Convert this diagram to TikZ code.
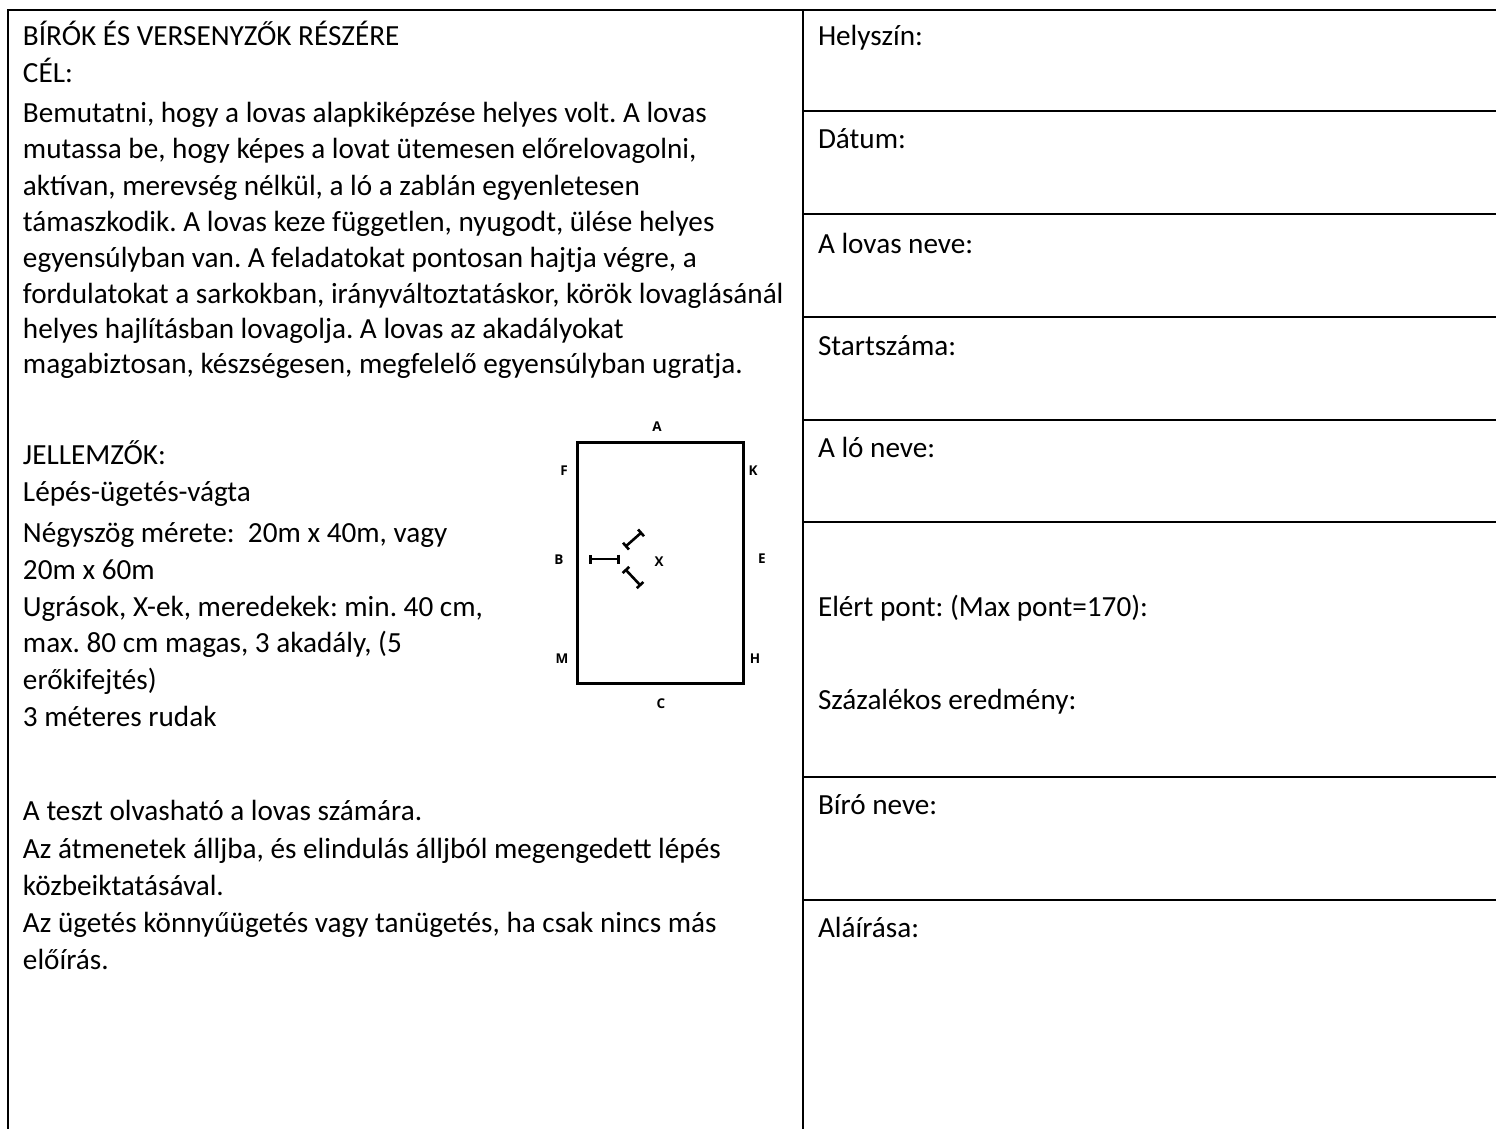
\documentclass[tikz,border=0pt]{standalone}
\usepackage{fontspec}
\setmainfont{Carlito}
\newfontfamily\smallsans{Open Sans}
\usetikzlibrary{arrows.meta}
\frenchspacing
\tikzset{
  txt/.style={anchor=base west,inner sep=0pt,outer sep=0pt,font=\fontsize{29.2}{34}\selectfont,text=black},
  rule/.style={line width=2.6pt,black},
  letter/.style={anchor=center,inner sep=0pt,font=\smallsans\bfseries\fontsize{13.5}{15}\selectfont},
  arena/.style={line width=3pt,black},
  pole/.style={line width=2.6pt,black,{Bar[width=9pt,length=2.6pt]}-{Bar[width=9pt,length=2.6pt]}}
}
\begin{document}
\begin{tikzpicture}[x=1pt,y=-1pt]
\useasboundingbox (0,0) rectangle (1496,1129);
\coordinate (tl) at (8,10); \coordinate (tr) at (1496,10); \coordinate (bl) at (8,1129);
\coordinate (mt) at (803,10); \coordinate (mb) at (803,1129);
\draw[rule] (bl) -- (tl) -- (tr);
\draw[rule] (mt) -- (mb);
\foreach \y/\n in {111/a,214/b,317/c,420/d,522/e,777/f,900/g}{
  \coordinate (r\n w) at (803,\y); \coordinate (r\n e) at (1496,\y);
  \draw[rule] (r\n w) -- (r\n e);
}
\node[txt] (l1) at (23,46) {BÍRÓK ÉS VERSENYZŐK RÉSZÉRE};
\node[txt] (l2) at (23,83) {CÉL:};
\node[txt] (l3) at (23,123) {Bemutatni, hogy a lovas alapkiképzése helyes volt. A lovas};
\node[txt] (l4) at (23,158) {mutassa be, hogy képes a lovat ütemesen előrelovagolni,};
\node[txt] (l5) at (23,195) {aktívan, merevség nélkül, a ló a zablán egyenletesen};
\node[txt] (l6) at (23,231) {támaszkodik. A lovas keze független, nyugodt, ülése helyes};
\node[txt] (l7) at (23,267) {egyensúlyban van. A feladatokat pontosan hajtja végre, a};
\node[txt] (l8) at (23,303) {fordulatokat a sarkokban, irányváltoztatáskor, körök lovaglásánál};
\node[txt] (l9) at (23,338) {helyes hajlításban lovagolja. A lovas az akadályokat};
\node[txt] (l10) at (23,373) {magabiztosan, készségesen, megfelelő egyensúlyban ugratja.};
\node[txt] (l11) at (23,464) {JELLEMZŐK:};
\node[txt] (l12) at (23,501) {Lépés-ügetés-vágta};
\node[txt] (l13) at (23,542) {Négyszög mérete:~ 20m x 40m, vagy};
\node[txt] (l14) at (23,579) {20m x 60m};
\node[txt] (l15) at (23,616) {Ugrások, X-ek, meredekek: min. 40 cm,};
\node[txt] (l16) at (23,652) {max. 80 cm magas, 3 akadály, (5};
\node[txt] (l17) at (23,689) {erőkifejtés)};
\node[txt] (l18) at (23,726) {3 méteres rudak};
\node[txt] (l19) at (23,820) {A teszt olvasható a lovas számára.};
\node[txt] (l20) at (23,858) {Az átmenetek álljba, és elindulás álljból megengedett lépés};
\node[txt] (l21) at (23,895) {közbeiktatásával.};
\node[txt] (l22) at (23,932) {Az ügetés könnyűügetés vagy tanügetés, ha csak nincs más};
\node[txt] (l23) at (23,969) {előírás.};
\node[txt] (h1) at (818,46) {Helyszín:};
\node[txt] (h2) at (818,148) {Dátum:};
\node[txt] (h3) at (818,253) {A lovas neve:};
\node[txt] (h4) at (818,355) {Startszáma:};
\node[txt] (h5) at (818,457) {A ló neve:};
\node[txt] (h6) at (818,616) {Elért pont: (Max pont=170):};
\node[txt] (h7) at (818,709) {Százalékos eredmény:};
\node[txt] (h8) at (818,814) {Bíró neve:};
\node[txt] (h9) at (818,937) {Aláírása:};
\coordinate (ar1) at (577,442); \coordinate (ar2) at (743,683);
\draw[arena] (ar1) rectangle (ar2);
\node[letter] (la) at (657,427) {A};
\node[letter] (lf) at (564,471) {F};
\node[letter] (lk) at (753,471) {K};
\node[letter] (lb) at (559,560) {B};
\node[letter] (lx) at (659,562) {X};
\node[letter] (le) at (762,559) {E};
\node[letter] (lm) at (562,659) {M};
\node[letter] (lh) at (755,659) {H};
\node[letter] (lc) at (661,704) {C};
\coordinate (p1a) at (589,559); \coordinate (p1b) at (620,559);
\coordinate (p2a) at (625,547); \coordinate (p2b) at (642,532);
\coordinate (p3a) at (625,569); \coordinate (p3b) at (641,586);
\draw[pole] (p1a) -- (p1b);
\draw[pole] (p2a) -- (p2b);
\draw[pole] (p3a) -- (p3b);
\end{tikzpicture}
\end{document}
